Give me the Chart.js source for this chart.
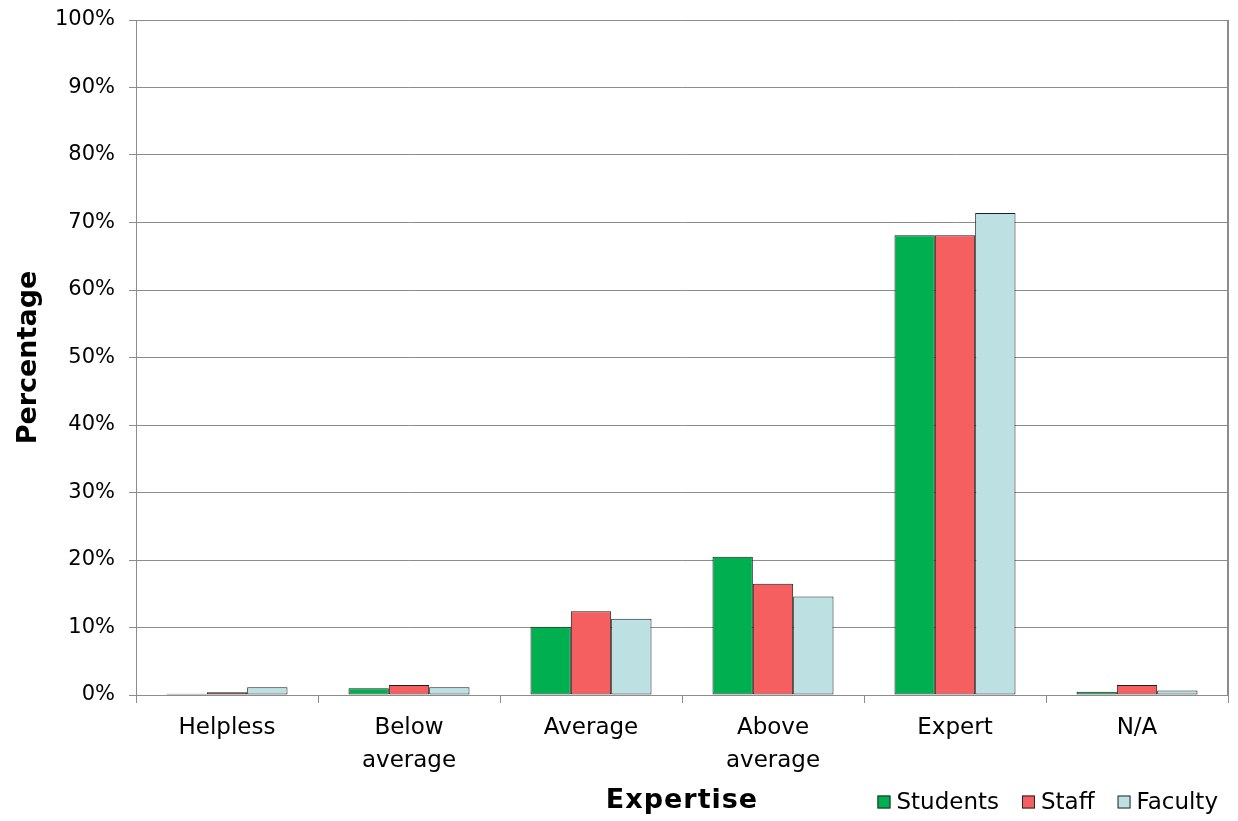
<!DOCTYPE html>
<html>
<head>
<meta charset="utf-8">
<script src="https://cdn.jsdelivr.net/npm/chart.js@4/dist/chart.umd.min.js"></script>
<style>
  html, body { margin: 0; padding: 0; background: #fff; }
  #wrap { width: 1238px; height: 821px; }
</style>
</head>
<body>
<div id="wrap"><canvas id="barChart" width="1238" height="821"></canvas></div>
<script>
const categories = ['Helpless', ['Below', 'average'], 'Average', ['Above', 'average'], 'Expert', 'N/A'];
const students = [0.2, 1.0, 10.1, 20.5, 68.1, 0.5];
const staff = [0.4, 1.5, 12.4, 16.5, 68.1, 1.5];
const faculty = [1.15, 1.15, 11.3, 14.6, 71.4, 0.65];
const yTicks = [0, 10, 20, 30, 40, 50, 60, 70, 80, 90, 100];

const ctx = document.getElementById('barChart');
const gridColor = '#8c8c8c';
const fontFamily = '"DejaVu Sans", Verdana, sans-serif';

// right frame of the plot, the x-axis title and a legend on the same line
const extras = {
  id: 'extras',
  afterDraw(chart) {
    const c = chart.ctx;
    const area = chart.chartArea;
    c.save();
    c.strokeStyle = gridColor;
    c.lineWidth = 2;
    c.beginPath();
    c.moveTo(area.right, area.top);
    c.lineTo(area.right, area.bottom);
    c.stroke();

    c.fillStyle = '#000';
    c.font = 'bold 27px ' + fontFamily;
    c.textAlign = 'center';
    c.textBaseline = 'middle';
    c.letterSpacing = '1px';
    c.fillText('Expertise', (area.left + area.right) / 2, 801);

    // legend, right aligned
    c.letterSpacing = '0px';
    c.font = '23px ' + fontFamily;
    c.textAlign = 'left';
    const box = 13, gap = 6, spacing = 23, cy = 802;
    const sets = chart.data.datasets;
    const widths = sets.map(ds => box + gap + c.measureText(ds.label).width);
    let x = 1218 - widths.reduce((a, b) => a + b, 0) - spacing * (sets.length - 1);
    sets.forEach((ds, i) => {
      c.fillStyle = ds.backgroundColor;
      c.fillRect(x, cy - box / 2, box, box);
      c.strokeStyle = '#262626';
      c.lineWidth = 1;
      c.strokeRect(x + 0.5, cy - box / 2 + 0.5, box - 1, box - 1);
      c.fillStyle = '#000';
      c.fillText(ds.label, x + box + gap, cy + 1);
      x += widths[i] + spacing;
    });
    c.restore();
  }
};

const mkSet = (label, data, color) => ({
  label: label,
  data: data,
  backgroundColor: color,
  borderColor: '#1e1e1e',
  borderWidth: 1,
  borderSkipped: false,
  categoryPercentage: 0.665,
  barPercentage: 1.0,
});

new Chart(ctx, {
  type: 'bar',
  data: {
    labels: categories,
    datasets: [
      mkSet('Students', students, '#00b050'),
      mkSet('Staff', staff, '#f55f5f'),
      mkSet('Faculty', faculty, '#bde0e3'),
    ]
  },
  options: {
    responsive: false,
    animation: false,
    layout: { padding: { top: 20, right: 10, left: 0, bottom: 0 } },
    plugins: {
      title: { display: false },
      tooltip: { enabled: false },
      legend: { display: false }
    },
    scales: {
      x: {
        offset: true,
        grid: {
          offset: true,
          drawOnChartArea: false,
          drawTicks: true,
          tickLength: 8,
          color: gridColor,
        },
        border: { color: gridColor },
        ticks: {
          color: '#000',
          padding: 8,
          maxRotation: 0,
          autoSkip: false,
          font: { family: fontFamily, size: 23, lineHeight: 1.45 },
        },
        afterFit(scale) {
          scale.height = 126;
          scale.paddingLeft = 0;
          scale.paddingRight = 0;
        }
      },
      y: {
        min: 0,
        max: 100,
        afterBuildTicks(scale) { scale.ticks = yTicks.map(v => ({ value: v })); },
        grid: { color: gridColor, tickLength: 7 },
        border: { color: gridColor },
        ticks: {
          color: '#000',
          padding: 14,
          font: { family: fontFamily, size: 21 },
          callback: v => v + '%',
        },
        title: {
          display: true,
          text: 'Percentage',
          color: '#000',
          font: { family: fontFamily, size: 27, weight: 'bold' },
          padding: { top: 13, bottom: 0 },
        },
        afterFit(scale) {
          scale.width = 136;
          scale.paddingTop = 0;
          scale.paddingBottom = 0;
        }
      }
    }
  },
  plugins: [extras]
});
</script>
</body>
</html>
